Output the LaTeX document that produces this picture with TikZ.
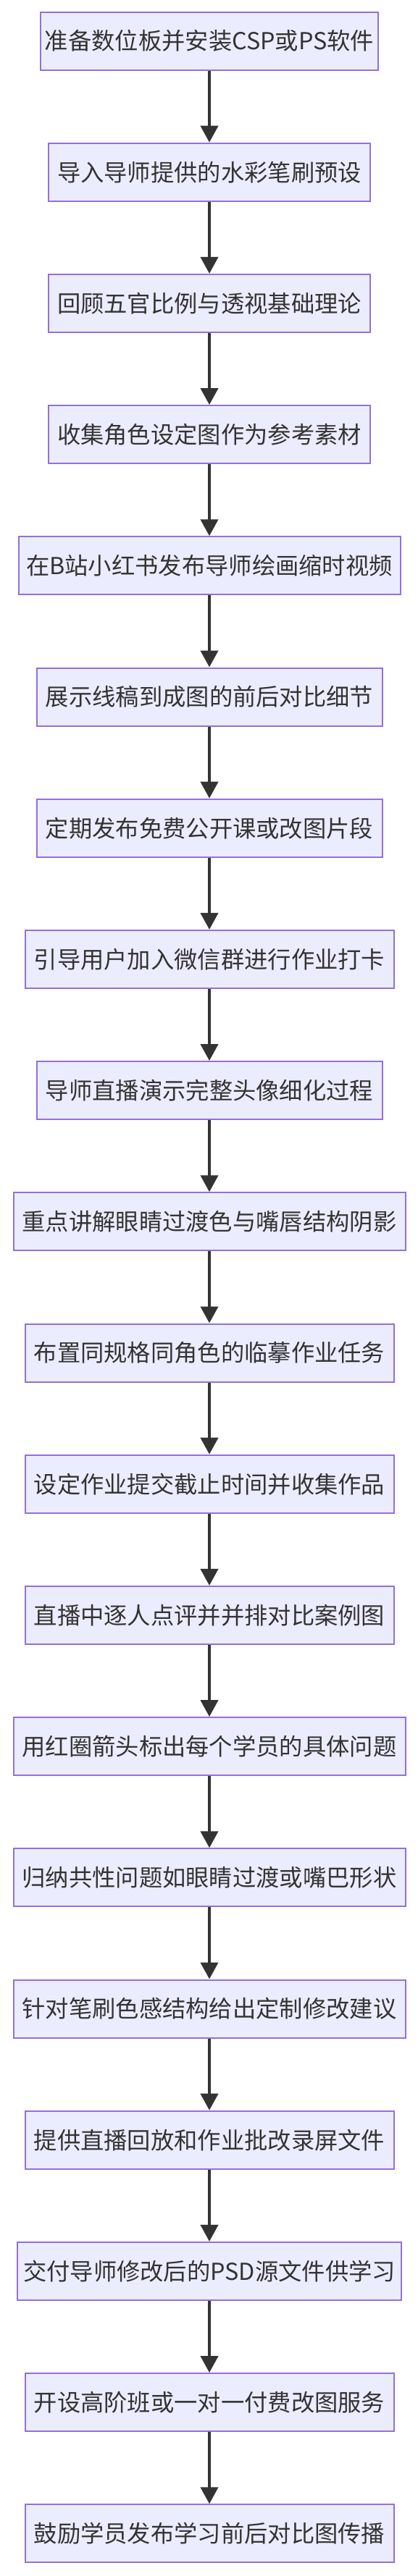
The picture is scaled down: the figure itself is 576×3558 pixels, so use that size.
\documentclass[tikz,border=0pt]{standalone}
\usepackage{fontspec}
\newfontfamily\cjk{Noto Sans CJK SC}
\usetikzlibrary{arrows.meta}
\definecolor{boxfill}{HTML}{ECECFF}
\definecolor{boxline}{HTML}{9370DB}
\definecolor{ink}{HTML}{333333}
\tikzset{
  stepbox/.style={draw=boxline, fill=boxfill, line width=2pt, inner xsep=0pt, inner ysep=0pt,
    minimum height=80pt, text=ink, font=\cjk\fontsize{32.3}{38}\selectfont, align=center},
  flow/.style={draw=ink, line width=4pt, -{Triangle[width=24pt,length=23pt]}}
}
\begin{document}
\begin{tikzpicture}[x=1pt,y=1pt]
\useasboundingbox (0,0) rectangle (576,-3558);
\def\cx{289}
\node[stepbox, minimum width=466pt] (n1)  at (\cx,-56.5) {准备数位板并安装CSP或PS软件};
\node[stepbox, minimum width=444pt] (n2)  at (\cx,-237.7) {导入导师提供的水彩笔刷预设};
\node[stepbox, minimum width=444pt] (n3)  at (\cx,-418.9) {回顾五官比例与透视基础理论};
\node[stepbox, minimum width=444pt] (n4)  at (\cx,-600.1) {收集角色设定图作为参考素材};
\node[stepbox, minimum width=527pt] (n5)  at (\cx,-781.3) {在B站小红书发布导师绘画缩时视频};
\node[stepbox, minimum width=477pt] (n6)  at (\cx,-962.5) {展示线稿到成图的前后对比细节};
\node[stepbox, minimum width=477pt] (n7)  at (\cx,-1143.7) {定期发布免费公开课或改图片段};
\node[stepbox, minimum width=509pt] (n8)  at (\cx,-1324.9) {引导用户加入微信群进行作业打卡};
\node[stepbox, minimum width=477pt] (n9)  at (\cx,-1506.1) {导师直播演示完整头像细化过程};
\node[stepbox, minimum width=541pt] (n10) at (\cx,-1687.3) {重点讲解眼睛过渡色与嘴唇结构阴影};
\node[stepbox, minimum width=509pt] (n11) at (\cx,-1868.5) {布置同规格同角色的临摹作业任务};
\node[stepbox, minimum width=509pt] (n12) at (\cx,-2049.7) {设定作业提交截止时间并收集作品};
\node[stepbox, minimum width=509pt] (n13) at (\cx,-2230.9) {直播中逐人点评并并排对比案例图};
\node[stepbox, minimum width=541pt] (n14) at (\cx,-2412.1) {用红圈箭头标出每个学员的具体问题};
\node[stepbox, minimum width=541pt] (n15) at (\cx,-2593.3) {归纳共性问题如眼睛过渡或嘴巴形状};
\node[stepbox, minimum width=541pt] (n16) at (\cx,-2774.5) {针对笔刷色感结构给出定制修改建议};
\node[stepbox, minimum width=509pt] (n17) at (\cx,-2955.7) {提供直播回放和作业批改录屏文件};
\node[stepbox, minimum width=530pt] (n18) at (\cx,-3136.9) {交付导师修改后的PSD源文件供学习};
\node[stepbox, minimum width=509pt] (n19) at (\cx,-3318.1) {开设高阶班或一对一付费改图服务};
\node[stepbox, minimum width=509pt] (n20) at (\cx,-3499.3) {鼓励学员发布学习前后对比图传播};
\foreach \a/\b in {n1/n2,n2/n3,n3/n4,n4/n5,n5/n6,n6/n7,n7/n8,n8/n9,n9/n10,n10/n11,n11/n12,n12/n13,n13/n14,n14/n15,n15/n16,n16/n17,n17/n18,n18/n19,n19/n20}
  \draw[flow] (\a.south) -- (\b.north);
\end{tikzpicture}
\end{document}
